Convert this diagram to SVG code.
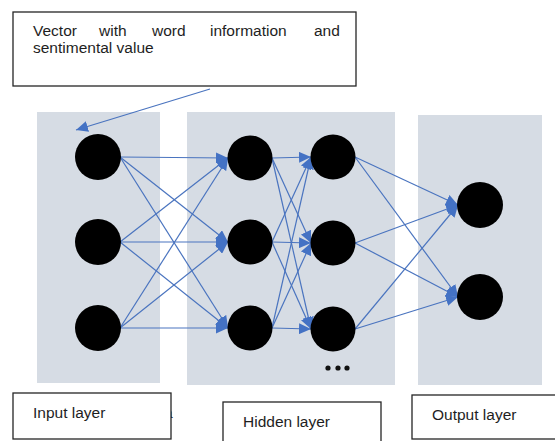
<svg xmlns="http://www.w3.org/2000/svg" width="555" height="441" viewBox="0 0 555 441">
  <style>
    .panel { fill: #d6dce4; }
    .box { fill: #ffffff; stroke: #262626; stroke-width: 1.3; }
    .label { font-family: "Liberation Sans", Arial, sans-serif; font-size: 15.5px; fill: #1e1e1e; }
    .neuron { fill: #000000; }
    .edge { stroke: #4a74bf; stroke-width: 1.2; fill: none; marker-end: url(#head); }
  </style>
  <defs>
    <marker id="head" viewBox="0 0 12 11" refX="12" refY="5.5" markerWidth="12" markerHeight="11" markerUnits="userSpaceOnUse" orient="auto">
      <path d="M0,0 L12,5.5 L0,11 Z" fill="#4472c4"/>
    </marker>
  </defs>

  <!-- layer backgrounds -->
  <g id="panels">
    <rect class="panel" x="37" y="112" width="123" height="271"/>
    <rect class="panel" x="187" y="112" width="208" height="273"/>
    <rect class="panel" x="418" y="115" width="124" height="270"/>
  </g>

  <!-- connectors -->
  <g id="connectors">
    <line class="edge" x1="210" y1="89" x2="76" y2="130"/>
    <!-- input -> hidden 1 -->
    <line class="edge" x1="120" y1="157" x2="228" y2="158"/>
    <line class="edge" x1="120" y1="157" x2="228" y2="242"/>
    <line class="edge" x1="120" y1="157" x2="228" y2="328"/>
    <line class="edge" x1="120" y1="242" x2="228" y2="158"/>
    <line class="edge" x1="120" y1="242" x2="228" y2="242"/>
    <line class="edge" x1="120" y1="242" x2="228" y2="328"/>
    <line class="edge" x1="120" y1="328" x2="228" y2="158"/>
    <line class="edge" x1="120" y1="328" x2="228" y2="242"/>
    <line class="edge" x1="120" y1="328" x2="228" y2="328"/>
    <!-- hidden 1 -> hidden 2 -->
    <line class="edge" x1="272" y1="158" x2="311" y2="157"/>
    <line class="edge" x1="272" y1="158" x2="311" y2="243"/>
    <line class="edge" x1="272" y1="158" x2="311" y2="329"/>
    <line class="edge" x1="272" y1="242" x2="311" y2="157"/>
    <line class="edge" x1="272" y1="242" x2="311" y2="243"/>
    <line class="edge" x1="272" y1="242" x2="311" y2="329"/>
    <line class="edge" x1="272" y1="328" x2="311" y2="157"/>
    <line class="edge" x1="272" y1="328" x2="311" y2="243"/>
    <line class="edge" x1="272" y1="328" x2="311" y2="329"/>
    <!-- hidden 2 -> output -->
    <line class="edge" x1="355" y1="157" x2="458" y2="205"/>
    <line class="edge" x1="355" y1="157" x2="458" y2="297"/>
    <line class="edge" x1="355" y1="243" x2="458" y2="205"/>
    <line class="edge" x1="355" y1="243" x2="458" y2="297"/>
    <line class="edge" x1="355" y1="329" x2="458" y2="205"/>
    <line class="edge" x1="355" y1="329" x2="458" y2="297"/>
  </g>

  <!-- input layer neurons -->
  <g id="input-nodes">
    <circle class="neuron" cx="98" cy="157" r="23"/>
    <circle class="neuron" cx="98" cy="242" r="23"/>
    <circle class="neuron" cx="98" cy="328" r="23"/>
  </g>

  <!-- hidden layer neurons -->
  <g id="hidden-nodes-1">
    <circle class="neuron" cx="250" cy="158" r="22.5"/>
    <circle class="neuron" cx="250" cy="242" r="22.5"/>
    <circle class="neuron" cx="250" cy="328" r="22.5"/>
  </g>
  <g id="hidden-nodes-2">
    <circle class="neuron" cx="333" cy="157" r="22.5"/>
    <circle class="neuron" cx="333" cy="243" r="22.5"/>
    <circle class="neuron" cx="333" cy="329" r="22.5"/>
  </g>
  <g id="ellipsis">
    <circle cx="328" cy="368" r="2.6" fill="#111"/>
    <circle cx="338" cy="368" r="2.6" fill="#111"/>
    <circle cx="347" cy="368" r="2.6" fill="#111"/>
  </g>

  <!-- output layer neurons -->
  <g id="output-nodes">
    <circle class="neuron" cx="480" cy="205" r="23"/>
    <circle class="neuron" cx="480" cy="297" r="23"/>
  </g>

  <!-- vector description -->
  <g id="vector-note">
    <rect class="box" x="13" y="12" width="343" height="74"/>
    <text class="label" y="36">
      <tspan x="33">Vector</tspan><tspan x="99">with</tspan><tspan x="152">word</tspan><tspan x="210">information</tspan><tspan x="314">and</tspan>
    </text>
    <text class="label" x="33" y="53">sentimental value</text>
  </g>

  <!-- layer captions -->
  <g id="input-caption">
    <text class="label" x="164" y="418">a</text>
    <rect class="box" x="13" y="393" width="158" height="46"/>
    <text class="label" x="33" y="418">Input layer</text>
  </g>
  <g id="hidden-caption">
    <rect class="box" x="223" y="402" width="158" height="45"/>
    <text class="label" x="243" y="427">Hidden layer</text>
  </g>
  <g id="output-caption">
    <rect class="box" x="412" y="395" width="148" height="44"/>
    <text class="label" x="432" y="420">Output layer</text>
  </g>
</svg>
